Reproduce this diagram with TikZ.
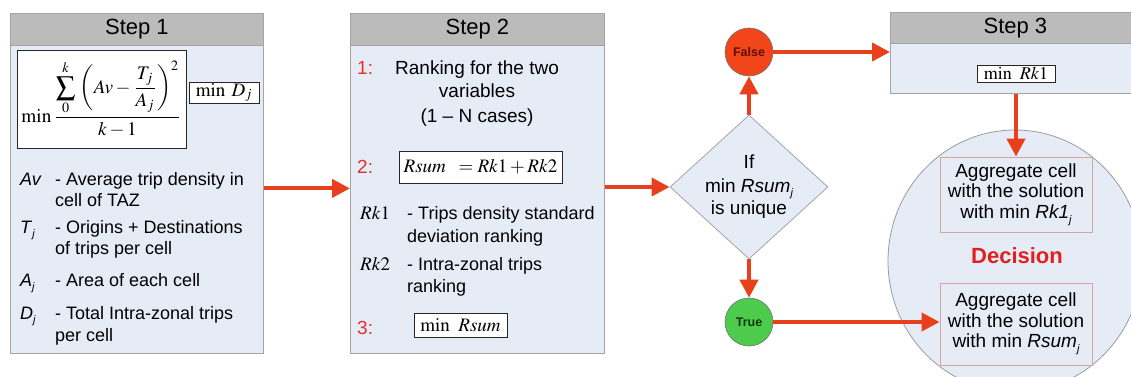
\documentclass[tikz,border=0pt]{standalone}
\usepackage{mathptmx}
\usepackage{graphicx}
\usepackage[no-math]{fontspec}
\setmainfont{Liberation Sans}
\usetikzlibrary{shapes.geometric,arrows.meta}
\definecolor{headgray}{HTML}{BBBBBB}
\definecolor{bodyblue}{HTML}{E6ECF6}
\definecolor{boxgray}{HTML}{A4A4A8}
\definecolor{arrred}{HTML}{E8401C}
\definecolor{numred}{HTML}{E03030}
\definecolor{falsered}{HTML}{F2451A}
\definecolor{darkred}{HTML}{5A1005}
\definecolor{truegreen}{HTML}{4CCB4C}
\definecolor{darkgreen}{HTML}{0C3A0C}
\definecolor{decred}{HTML}{E0201F}
\definecolor{aggborder}{HTML}{D9A3A3}
\definecolor{circgray}{HTML}{9A9AA4}
\newcommand\mysub[1]{\raisebox{-0.45ex}{\fontsize{11}{11}\selectfont\itshape #1}}
\begin{document}
\begin{tikzpicture}[x=1pt,y=-1pt,
 stepbox/.style={draw=boxgray, fill=bodyblue, line width=0.8pt, inner sep=0, anchor=north west},
 stephead/.style={draw=boxgray, fill=headgray, line width=0.8pt, inner sep=0, anchor=north west, font=\fontsize{22}{26}\selectfont},
 mathbox/.style={draw=black!85, fill=white, line width=0.9pt, inner sep=0},
 txt/.style={font=\fontsize{18}{21}\selectfont, inner sep=0, anchor=base west},
 ctxt/.style={font=\fontsize{19}{22}\selectfont, inner sep=0, anchor=base},
 num/.style={inner sep=0, anchor=base west, text=numred, font=\fontsize{19}{22}\selectfont},
 arr/.style={draw=arrred, line width=4pt, -{Triangle[length=18pt,width=18pt]}},
 aggbox/.style={draw=aggborder, line width=0.8pt, minimum width=152, inner sep=0, align=center, font=\fontsize{19}{20.5}\selectfont},
 tf/.style={circle, draw=black!55, line width=0.6pt, minimum size=48, inner sep=0, font=\bfseries\fontsize{12.5}{14}\selectfont},
 ]
\useasboundingbox (0,0) rectangle (1131,377);
% ---------- Step 1
\node[stepbox, minimum width=253, minimum height=340] (s1) at (10,13) {};
\node[stephead, minimum width=253, minimum height=32] (h1) at (10,13) {Step 1};
\node[mathbox, minimum width=169, minimum height=98] (f1) at (101.5,99)
 {\resizebox{160pt}{!}{$\displaystyle \min \frac{\displaystyle\sum_{0}^{k}\,\left(Av-\frac{T_j}{A_j}\right)^{2}}{k-1}$}};
\node[mathbox, minimum width=70, minimum height=21, font=\fontsize{19}{22}\selectfont] (f2) at (224,92.5) {$\min\;D_j$};
\node[txt] (l1a) at (20,185) {\textit{Av}};
\node[txt] (l1b) at (55,185) {- Average trip density in};
\node[txt] (l1c) at (55,206) {cell of TAZ};
\node[txt] (l2a) at (20,233) {\textit{T}\mysub{j}};
\node[txt] (l2b) at (55,233) {- Origins + Destinations};
\node[txt] (l2c) at (55,254) {of trips per cell};
\node[txt] (l3a) at (20,286) {\textit{A}\mysub{j}};
\node[txt] (l3b) at (55,286) {- Area of each cell};
\node[txt] (l4a) at (20,319) {\textit{D}\mysub{j}};
\node[txt] (l4b) at (55,319) {- Total Intra-zonal trips};
\node[txt] (l4c) at (55,341) {per cell};
% ---------- Step 2
\node[stepbox, minimum width=254, minimum height=340] (s2) at (350,13) {};
\node[stephead, minimum width=254, minimum height=32] (h2) at (350,13) {Step 2};
\node[num] (n1) at (357,75) {1:};
\node[ctxt] (r1) at (477,75) {Ranking for the two};
\node[ctxt] (r2) at (477,98) {variables};
\node[ctxt] (r3) at (477,122) {(1 – N cases)};
\node[num] (n2) at (357,173) {2:};
\node[mathbox, minimum width=163, minimum height=32, font=\fontsize{19}{22}\selectfont] (rs) at (480.5,167) {$Rsum\;\;=Rk1+Rk2$};
\node[txt, font=\fontsize{19}{22}\selectfont] (k1a) at (360,219) {$Rk1$};
\node[txt] (k1b) at (407,219) {- Trips density standard};
\node[txt] (k1c) at (407,242) {deviation ranking};
\node[txt, font=\fontsize{19}{22}\selectfont] (k2a) at (360,270) {$Rk2$};
\node[txt] (k2b) at (407,270) {- Intra-zonal trips};
\node[txt] (k2c) at (407,292) {ranking};
\node[num] (n3) at (357,334) {3:};
\node[mathbox, minimum width=93, minimum height=24, font=\fontsize{19}{22}\selectfont] (mr) at (460.5,325) {$\min\;\,Rsum$};
% ---------- Decision diamond
\node[diamond, draw=boxgray, fill=bodyblue, line width=0.8pt, minimum width=158, minimum height=144, inner sep=0] (dia) at (749,187) {};
\node[ctxt] (d1) at (749,168) {If};
\node[ctxt] (d2) at (749,192) {min \textit{Rsum}\mysub{j}};
\node[ctxt] (d3) at (749,214) {is unique};
\node[tf, fill=falsered, text=darkred] (fa) at (749,52) {False};
\node[tf, fill=truegreen, text=darkgreen] (tr) at (749,322) {True};
% ---------- Step 3
\node[stepbox, minimum width=250, minimum height=81] (s3) at (890,12) {};
\node[stephead, minimum width=250, minimum height=31] (h3) at (890,12) {Step 3};
\node[mathbox, minimum width=78, minimum height=17, font=\fontsize{18}{20}\selectfont] (m3) at (1016,73.5) {$\min\;\,Rk1$};
% ---------- Decision circle
\node[ellipse, draw=circgray, fill=bodyblue, line width=0.8pt, minimum width=254, minimum height=262, inner sep=0] (dec) at (1015,261) {};
\node[aggbox, minimum height=75] (ag1) at (1016,194.5) {Aggregate cell\\with the solution\\with min \textit{Rk1}\mysub{j}};
\node[font=\bfseries\fontsize{22}{26}\selectfont, text=decred, inner sep=0, anchor=base] (decl) at (1017,263) {Decision};
\node[aggbox, minimum height=82] (ag2) at (1016,324) {Aggregate cell\\with the solution\\with min \textit{Rsum}\mysub{j}};
% ---------- Connectors
\draw[arr] ([yshift=-5pt]s1.east) -- ([yshift=-5pt]s2.west);
\draw[arr] (s2.east |- dia.west) -- (dia.west);
\draw[arr] (dia.north) -- (fa.south);
\draw[arr] (dia.south) -- (tr.north);
\draw[arr] (fa.east) -- (fa.east -| s3.west);
\draw[arr] (tr.east) -- (tr.east -| ag2.west);
\draw[arr] (ag1.north |- s3.south) -- (ag1.north);
\end{tikzpicture}
\end{document}
